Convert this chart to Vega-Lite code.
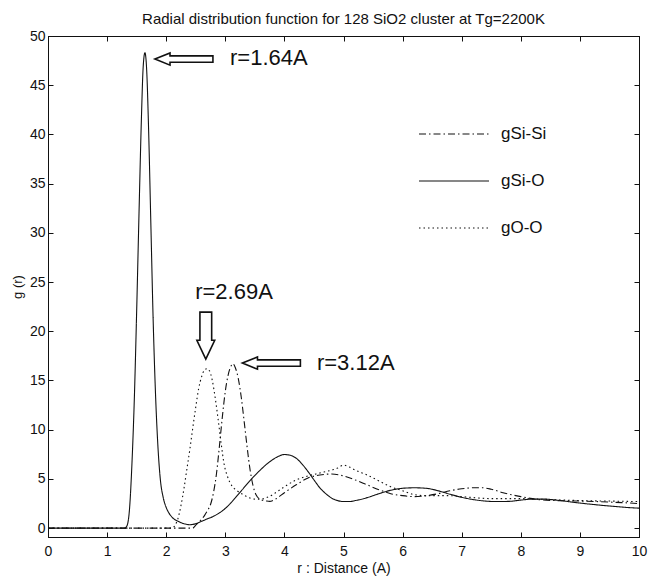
{
  "$schema": "https://vega.github.io/schema/vega-lite/v6.json",
  "width": 591,
  "height": 501,
  "autosize": {"type": "none"},
  "padding": {"left": 48, "top": 36, "right": 10, "bottom": 41},
  "background": "white",
  "title": {
    "text": "Radial distribution function for 128 SiO2 cluster at Tg=2200K",
    "font": "Liberation Sans",
    "fontSize": 15,
    "fontWeight": "normal",
    "color": "#111",
    "offset": 2
  },
  "config": {
    "view": {"stroke": "#111", "strokeWidth": 1},
    "axis": {
      "labelFont": "Liberation Sans",
      "titleFont": "Liberation Sans",
      "labelColor": "#111",
      "titleColor": "#111",
      "titleFontWeight": "normal",
      "domainColor": "#111",
      "tickColor": "#111",
      "grid": false
    },
    "legend": {"labelFont": "Liberation Sans"}
  },
  "datasets": {
    "curves": [
      {"r": 0, "g": 0, "pair": "gSi-O"},
      {"r": 1.3, "g": 0, "pair": "gSi-O"},
      {"r": 1.34, "g": 0.3, "pair": "gSi-O"},
      {"r": 1.38, "g": 2, "pair": "gSi-O"},
      {"r": 1.42, "g": 6.5, "pair": "gSi-O"},
      {"r": 1.46, "g": 13, "pair": "gSi-O"},
      {"r": 1.5, "g": 22, "pair": "gSi-O"},
      {"r": 1.54, "g": 32, "pair": "gSi-O"},
      {"r": 1.58, "g": 41.5, "pair": "gSi-O"},
      {"r": 1.61, "g": 46.8, "pair": "gSi-O"},
      {"r": 1.64, "g": 48.3, "pair": "gSi-O"},
      {"r": 1.67, "g": 46.5, "pair": "gSi-O"},
      {"r": 1.7, "g": 41, "pair": "gSi-O"},
      {"r": 1.74, "g": 31, "pair": "gSi-O"},
      {"r": 1.78, "g": 21, "pair": "gSi-O"},
      {"r": 1.82, "g": 13.5, "pair": "gSi-O"},
      {"r": 1.86, "g": 8.3, "pair": "gSi-O"},
      {"r": 1.9, "g": 5, "pair": "gSi-O"},
      {"r": 1.95, "g": 3.1, "pair": "gSi-O"},
      {"r": 2.0, "g": 2.1, "pair": "gSi-O"},
      {"r": 2.05, "g": 1.5, "pair": "gSi-O"},
      {"r": 2.1, "g": 1.1, "pair": "gSi-O"},
      {"r": 2.2, "g": 0.7, "pair": "gSi-O"},
      {"r": 2.3, "g": 0.45, "pair": "gSi-O"},
      {"r": 2.4, "g": 0.35, "pair": "gSi-O"},
      {"r": 2.5, "g": 0.45, "pair": "gSi-O"},
      {"r": 2.6, "g": 0.7, "pair": "gSi-O"},
      {"r": 2.7, "g": 0.95, "pair": "gSi-O"},
      {"r": 2.8, "g": 1.2, "pair": "gSi-O"},
      {"r": 2.9, "g": 1.55, "pair": "gSi-O"},
      {"r": 3.0, "g": 2.0, "pair": "gSi-O"},
      {"r": 3.1, "g": 2.6, "pair": "gSi-O"},
      {"r": 3.2, "g": 3.3, "pair": "gSi-O"},
      {"r": 3.3, "g": 4.0, "pair": "gSi-O"},
      {"r": 3.4, "g": 4.7, "pair": "gSi-O"},
      {"r": 3.5, "g": 5.35, "pair": "gSi-O"},
      {"r": 3.6, "g": 5.95, "pair": "gSi-O"},
      {"r": 3.7, "g": 6.5, "pair": "gSi-O"},
      {"r": 3.8, "g": 6.95, "pair": "gSi-O"},
      {"r": 3.9, "g": 7.3, "pair": "gSi-O"},
      {"r": 4.0, "g": 7.48, "pair": "gSi-O"},
      {"r": 4.1, "g": 7.4, "pair": "gSi-O"},
      {"r": 4.2, "g": 7.1, "pair": "gSi-O"},
      {"r": 4.3, "g": 6.5, "pair": "gSi-O"},
      {"r": 4.4, "g": 5.75, "pair": "gSi-O"},
      {"r": 4.5, "g": 4.9, "pair": "gSi-O"},
      {"r": 4.6, "g": 4.1, "pair": "gSi-O"},
      {"r": 4.7, "g": 3.5, "pair": "gSi-O"},
      {"r": 4.8, "g": 3.05, "pair": "gSi-O"},
      {"r": 4.9, "g": 2.8, "pair": "gSi-O"},
      {"r": 5.0, "g": 2.7, "pair": "gSi-O"},
      {"r": 5.1, "g": 2.7, "pair": "gSi-O"},
      {"r": 5.2, "g": 2.8, "pair": "gSi-O"},
      {"r": 5.4, "g": 3.1, "pair": "gSi-O"},
      {"r": 5.6, "g": 3.5, "pair": "gSi-O"},
      {"r": 5.8, "g": 3.85, "pair": "gSi-O"},
      {"r": 6.0, "g": 4.05, "pair": "gSi-O"},
      {"r": 6.2, "g": 4.1, "pair": "gSi-O"},
      {"r": 6.4, "g": 4.05, "pair": "gSi-O"},
      {"r": 6.6, "g": 3.8, "pair": "gSi-O"},
      {"r": 6.8, "g": 3.45, "pair": "gSi-O"},
      {"r": 7.0, "g": 3.13, "pair": "gSi-O"},
      {"r": 7.2, "g": 2.9, "pair": "gSi-O"},
      {"r": 7.4, "g": 2.75, "pair": "gSi-O"},
      {"r": 7.6, "g": 2.7, "pair": "gSi-O"},
      {"r": 7.8, "g": 2.72, "pair": "gSi-O"},
      {"r": 8.0, "g": 2.85, "pair": "gSi-O"},
      {"r": 8.2, "g": 2.95, "pair": "gSi-O"},
      {"r": 8.4, "g": 2.95, "pair": "gSi-O"},
      {"r": 8.6, "g": 2.85, "pair": "gSi-O"},
      {"r": 8.8, "g": 2.7, "pair": "gSi-O"},
      {"r": 9.0, "g": 2.55, "pair": "gSi-O"},
      {"r": 9.2, "g": 2.42, "pair": "gSi-O"},
      {"r": 9.4, "g": 2.3, "pair": "gSi-O"},
      {"r": 9.6, "g": 2.2, "pair": "gSi-O"},
      {"r": 9.8, "g": 2.1, "pair": "gSi-O"},
      {"r": 10, "g": 2.03, "pair": "gSi-O"},

      {"r": 0, "g": 0, "pair": "gSi-Si"},
      {"r": 2.45, "g": 0, "pair": "gSi-Si"},
      {"r": 2.5, "g": 0.3, "pair": "gSi-Si"},
      {"r": 2.55, "g": 0.6, "pair": "gSi-Si"},
      {"r": 2.6, "g": 0.9, "pair": "gSi-Si"},
      {"r": 2.65, "g": 1.3, "pair": "gSi-Si"},
      {"r": 2.7, "g": 1.8, "pair": "gSi-Si"},
      {"r": 2.75, "g": 2.4, "pair": "gSi-Si"},
      {"r": 2.8, "g": 3.6, "pair": "gSi-Si"},
      {"r": 2.85, "g": 5.5, "pair": "gSi-Si"},
      {"r": 2.9, "g": 8.3, "pair": "gSi-Si"},
      {"r": 2.95, "g": 11.3, "pair": "gSi-Si"},
      {"r": 3.0, "g": 13.9, "pair": "gSi-Si"},
      {"r": 3.05, "g": 15.6, "pair": "gSi-Si"},
      {"r": 3.1, "g": 16.5, "pair": "gSi-Si"},
      {"r": 3.13, "g": 16.7, "pair": "gSi-Si"},
      {"r": 3.17, "g": 16.3, "pair": "gSi-Si"},
      {"r": 3.22, "g": 15.2, "pair": "gSi-Si"},
      {"r": 3.27, "g": 13.3, "pair": "gSi-Si"},
      {"r": 3.32, "g": 10.8, "pair": "gSi-Si"},
      {"r": 3.37, "g": 8.2, "pair": "gSi-Si"},
      {"r": 3.42, "g": 5.9, "pair": "gSi-Si"},
      {"r": 3.47, "g": 4.3, "pair": "gSi-Si"},
      {"r": 3.52, "g": 3.4, "pair": "gSi-Si"},
      {"r": 3.6, "g": 2.9, "pair": "gSi-Si"},
      {"r": 3.7, "g": 2.75, "pair": "gSi-Si"},
      {"r": 3.75, "g": 2.72, "pair": "gSi-Si"},
      {"r": 3.85, "g": 2.95, "pair": "gSi-Si"},
      {"r": 4.0, "g": 3.6, "pair": "gSi-Si"},
      {"r": 4.2, "g": 4.4, "pair": "gSi-Si"},
      {"r": 4.4, "g": 5.1, "pair": "gSi-Si"},
      {"r": 4.6, "g": 5.4, "pair": "gSi-Si"},
      {"r": 4.8, "g": 5.5, "pair": "gSi-Si"},
      {"r": 5.0, "g": 5.3, "pair": "gSi-Si"},
      {"r": 5.2, "g": 4.9, "pair": "gSi-Si"},
      {"r": 5.4, "g": 4.4, "pair": "gSi-Si"},
      {"r": 5.6, "g": 3.9, "pair": "gSi-Si"},
      {"r": 5.8, "g": 3.5, "pair": "gSi-Si"},
      {"r": 6.0, "g": 3.3, "pair": "gSi-Si"},
      {"r": 6.2, "g": 3.2, "pair": "gSi-Si"},
      {"r": 6.4, "g": 3.3, "pair": "gSi-Si"},
      {"r": 6.6, "g": 3.5, "pair": "gSi-Si"},
      {"r": 6.8, "g": 3.8, "pair": "gSi-Si"},
      {"r": 7.0, "g": 4.0, "pair": "gSi-Si"},
      {"r": 7.2, "g": 4.1, "pair": "gSi-Si"},
      {"r": 7.35, "g": 4.1, "pair": "gSi-Si"},
      {"r": 7.5, "g": 3.95, "pair": "gSi-Si"},
      {"r": 7.7, "g": 3.6, "pair": "gSi-Si"},
      {"r": 8.0, "g": 3.2, "pair": "gSi-Si"},
      {"r": 8.3, "g": 2.9, "pair": "gSi-Si"},
      {"r": 8.6, "g": 2.8, "pair": "gSi-Si"},
      {"r": 9.0, "g": 2.75, "pair": "gSi-Si"},
      {"r": 9.5, "g": 2.65, "pair": "gSi-Si"},
      {"r": 10, "g": 2.5, "pair": "gSi-Si"},

      {"r": 0, "g": 0, "pair": "gO-O"},
      {"r": 2.1, "g": 0, "pair": "gO-O"},
      {"r": 2.15, "g": 0.3, "pair": "gO-O"},
      {"r": 2.2, "g": 1.0, "pair": "gO-O"},
      {"r": 2.25, "g": 2.3, "pair": "gO-O"},
      {"r": 2.3, "g": 4.0, "pair": "gO-O"},
      {"r": 2.35, "g": 6.0, "pair": "gO-O"},
      {"r": 2.4, "g": 8.0, "pair": "gO-O"},
      {"r": 2.45, "g": 10.2, "pair": "gO-O"},
      {"r": 2.5, "g": 12.3, "pair": "gO-O"},
      {"r": 2.55, "g": 14.2, "pair": "gO-O"},
      {"r": 2.6, "g": 15.4, "pair": "gO-O"},
      {"r": 2.65, "g": 16.1, "pair": "gO-O"},
      {"r": 2.69, "g": 16.2, "pair": "gO-O"},
      {"r": 2.73, "g": 16.0, "pair": "gO-O"},
      {"r": 2.78, "g": 15.0, "pair": "gO-O"},
      {"r": 2.83, "g": 13.2, "pair": "gO-O"},
      {"r": 2.88, "g": 11.0, "pair": "gO-O"},
      {"r": 2.93, "g": 8.6, "pair": "gO-O"},
      {"r": 2.98, "g": 6.5, "pair": "gO-O"},
      {"r": 3.04, "g": 5.2, "pair": "gO-O"},
      {"r": 3.1, "g": 4.4, "pair": "gO-O"},
      {"r": 3.2, "g": 3.8, "pair": "gO-O"},
      {"r": 3.3, "g": 3.4, "pair": "gO-O"},
      {"r": 3.4, "g": 3.1, "pair": "gO-O"},
      {"r": 3.5, "g": 2.95, "pair": "gO-O"},
      {"r": 3.6, "g": 2.95, "pair": "gO-O"},
      {"r": 3.7, "g": 3.1, "pair": "gO-O"},
      {"r": 3.8, "g": 3.4, "pair": "gO-O"},
      {"r": 3.9, "g": 3.8, "pair": "gO-O"},
      {"r": 4.0, "g": 4.2, "pair": "gO-O"},
      {"r": 4.2, "g": 4.9, "pair": "gO-O"},
      {"r": 4.4, "g": 5.3, "pair": "gO-O"},
      {"r": 4.6, "g": 5.6, "pair": "gO-O"},
      {"r": 4.8, "g": 5.9, "pair": "gO-O"},
      {"r": 4.9, "g": 6.1, "pair": "gO-O"},
      {"r": 5.0, "g": 6.4, "pair": "gO-O"},
      {"r": 5.1, "g": 6.2, "pair": "gO-O"},
      {"r": 5.2, "g": 5.9, "pair": "gO-O"},
      {"r": 5.4, "g": 5.4, "pair": "gO-O"},
      {"r": 5.6, "g": 4.8, "pair": "gO-O"},
      {"r": 5.8, "g": 4.2, "pair": "gO-O"},
      {"r": 6.0, "g": 3.8, "pair": "gO-O"},
      {"r": 6.2, "g": 3.4, "pair": "gO-O"},
      {"r": 6.4, "g": 3.3, "pair": "gO-O"},
      {"r": 6.6, "g": 3.3, "pair": "gO-O"},
      {"r": 6.8, "g": 3.3, "pair": "gO-O"},
      {"r": 7.0, "g": 3.2, "pair": "gO-O"},
      {"r": 7.2, "g": 3.1, "pair": "gO-O"},
      {"r": 7.5, "g": 3.0, "pair": "gO-O"},
      {"r": 8.0, "g": 3.0, "pair": "gO-O"},
      {"r": 8.5, "g": 2.9, "pair": "gO-O"},
      {"r": 9.0, "g": 2.8, "pair": "gO-O"},
      {"r": 9.5, "g": 2.75, "pair": "gO-O"},
      {"r": 10, "g": 2.7, "pair": "gO-O"}
    ],
    "labels": [
      {"r": 3.08, "g": 47.76, "label": "r=1.64A"},
      {"r": 2.49, "g": 23.98, "label": "r=2.69A"},
      {"r": 4.55, "g": 16.77, "label": "r=3.12A"}
    ],
    "leftArrows": [
      {"r": 2.3, "g": 47.66},
      {"r": 3.78, "g": 16.77}
    ],
    "downArrows": [
      {"r": 2.67, "g": 19.56}
    ]
  },
  "resolve": {"axis": {"x": "independent", "y": "independent"}},
  "layer": [
    {
      "data": {"name": "curves"},
      "mark": {"type": "line", "interpolate": "monotone", "strokeWidth": 1.1, "color": "#111"},
      "encoding": {
        "x": {
          "field": "r", "type": "quantitative",
          "scale": {"domain": [0, 10], "nice": false, "zero": false},
          "axis": {
            "orient": "bottom",
            "values": [0, 1, 2, 3, 4, 5, 6, 7, 8, 9, 10],
            "title": "r : Distance (A)",
            "titleFontSize": 14,
            "titlePadding": 3,
            "labelFontSize": 14,
            "tickSize": -5,
            "labelPadding": 12,
            "labelFlush": false
          }
        },
        "y": {
          "field": "g", "type": "quantitative",
          "scale": {"domain": [-0.9, 50], "nice": false, "zero": false},
          "axis": {
            "orient": "left",
            "values": [0, 5, 10, 15, 20, 25, 30, 35, 40, 45, 50],
            "title": "g (r)",
            "titleFontSize": 13,
            "titlePadding": 5,
            "labelFontSize": 14,
            "tickSize": -5,
            "labelPadding": 8,
            "labelFlush": false
          }
        },
        "strokeDash": {
          "field": "pair", "type": "nominal",
          "scale": {"domain": ["gSi-Si", "gSi-O", "gO-O"], "range": [[7, 3, 1.5, 3], [1, 0], [1.5, 3]]},
          "legend": {
            "orient": "none",
            "legendX": 370,
            "legendY": 62,
            "title": null,
            "padding": 0,
            "symbolType": "stroke",
            "symbolSize": 4900,
            "symbolStrokeColor": "#111",
            "symbolStrokeWidth": 1.1,
            "rowPadding": 3,
            "labelOffset": 11,
            "labelFontSize": 17,
            "labelColor": "#111",
            "labelBaseline": "middle"
          }
        }
      }
    },
    {
      "data": {"name": "leftArrows"},
      "mark": {
        "type": "point",
        "shape": "M -1 0 L -0.48 -0.21 L -0.48 -0.11 L 1 -0.11 L 1 0.11 L -0.48 0.11 L -0.48 0.21 Z",
        "size": 3364,
        "filled": true,
        "fill": "white",
        "fillOpacity": 1,
        "stroke": "#111",
        "strokeWidth": 1.6,
        "opacity": 1
      },
      "encoding": {
        "x": {"field": "r", "type": "quantitative", "axis": null},
        "y": {"field": "g", "type": "quantitative", "axis": null}
      }
    },
    {
      "data": {"name": "downArrows"},
      "mark": {
        "type": "point",
        "shape": "M 0 1 L -0.38 0.2 L -0.25 0.2 L -0.25 -1 L 0.25 -1 L 0.25 0.2 L 0.38 0.2 Z",
        "size": 2209,
        "filled": true,
        "fill": "white",
        "fillOpacity": 1,
        "stroke": "#111",
        "strokeWidth": 1.6,
        "opacity": 1
      },
      "encoding": {
        "x": {"field": "r", "type": "quantitative", "axis": null},
        "y": {"field": "g", "type": "quantitative", "axis": null}
      }
    },
    {
      "data": {"name": "labels"},
      "mark": {
        "type": "text",
        "align": "left",
        "baseline": "middle",
        "font": "Liberation Sans",
        "fontSize": 22,
        "color": "#111"
      },
      "encoding": {
        "x": {"field": "r", "type": "quantitative", "axis": null},
        "y": {"field": "g", "type": "quantitative", "axis": null},
        "text": {"field": "label"}
      }
    },
    {
      "data": {"name": "curves"},
      "mark": {"type": "point", "opacity": 0},
      "encoding": {
        "x": {
          "field": "r", "type": "quantitative",
          "axis": {
            "orient": "top",
            "values": [0, 1, 2, 3, 4, 5, 6, 7, 8, 9, 10],
            "labels": false,
            "title": null,
            "tickSize": -5
          }
        },
        "y": {
          "field": "g", "type": "quantitative",
          "axis": {
            "orient": "right",
            "values": [0, 5, 10, 15, 20, 25, 30, 35, 40, 45, 50],
            "labels": false,
            "title": null,
            "tickSize": -5
          }
        }
      }
    }
  ]
}
